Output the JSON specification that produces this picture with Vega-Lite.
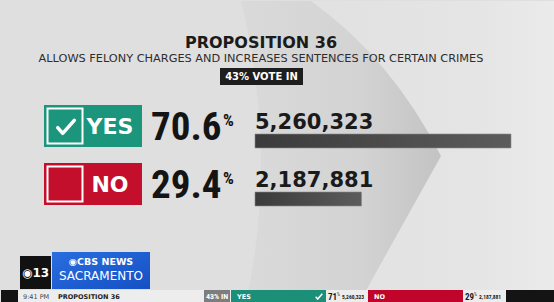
{
  "$schema": "https://vega.github.io/schema/vega-lite/v6.json",
  "width": 554,
  "height": 302,
  "autosize": {"type": "fit", "contains": "padding"},
  "padding": 0,
  "background": "#dfdfdf",
  "title": {
    "text": "PROPOSITION 36",
    "subtitle": "ALLOWS FELONY CHARGES AND INCREASES SENTENCES FOR CERTAIN CRIMES",
    "anchor": "middle",
    "frame": "group",
    "dx": -16.5,
    "font": "DejaVu Sans",
    "fontSize": 16,
    "fontWeight": "bold",
    "color": "#1b1b1b",
    "subtitleFont": "DejaVu Sans",
    "subtitleFontSize": 11.3,
    "subtitleColor": "#2d2d2d",
    "subtitlePadding": 2,
    "offset": -64
  },
  "config": {"view": {"stroke": null}},
  "datasets": {
    "results": [
      {"option": "Yes", "label": "YES", "pct": 70.6, "votes": 5260323},
      {"option": "No", "label": "NO", "pct": 29.4, "votes": 2187881}
    ],
    "reporting": [{"label": "43% VOTE IN", "short": "43% IN"}],
    "ticker": [{"time": "9:41 PM", "race": "PROPOSITION 36"}],
    "station": [{"call": "◉13", "brand": "◉CBS NEWS", "city": "SACRAMENTO"}],
    "backdrop": [{"part": "chevron"}]
  },
  "data": {"name": "results"},
  "resolve": {"scale": {"x": "independent", "color": "independent"}},
  "layer": [
    {
      "data": {"name": "backdrop"},
      "mark": {"type": "rect", "x": 300, "x2": 554, "y": 0, "y2": 289, "clip": true,
        "fill": {"gradient": "linear", "x1": 0, "y1": 0, "x2": 1, "y2": 0,
          "stops": [{"offset": 0, "color": "#e1e1e1"}, {"offset": 0.7, "color": "#e5e5e5"}, {"offset": 1, "color": "#ebebeb"}]}},
      "encoding": {}
    },
    {
      "data": {"name": "backdrop"},
      "mark": {"type": "point", "filled": true, "clip": true, "strokeWidth": 0, "opacity": 1,
        "shape": "M-0.695,-1 L-0.232,-1 Q0.3,-0.62 0.629,0.026 L0.086,1 L-0.662,1 Q-0.45,0 -0.695,-1 Z",
        "size": 91204,
        "fill": {"gradient": "linear", "x1": 0, "y1": 0, "x2": 1, "y2": 0,
          "stops": [{"offset": 0, "color": "#dadada"}, {"offset": 0.6, "color": "#d3d3d3"}, {"offset": 1, "color": "#c3c3c3"}]}},
      "encoding": {"x": {"value": 345}, "y": {"value": 151}}
    },
    {
      "data": {"name": "reporting"},
      "mark": {"type": "rect", "x": 219, "x2": 302, "y": 67, "y2": 84, "fill": "#1e1e1e"},
      "encoding": {}
    },
    {
      "data": {"name": "reporting"},
      "mark": {"type": "text", "align": "center", "baseline": "middle", "font": "DejaVu Sans", "fontWeight": "bold", "fontSize": 10, "fill": "#ffffff"},
      "encoding": {"x": {"value": 260.5}, "y": {"value": 75.5}, "text": {"field": "label"}}
    },
    {
      "mark": {"type": "rect", "x": 43, "x2": 141},
      "encoding": {
        "y": {"field": "option", "type": "nominal", "axis": null, "scale": {"type": "band", "domain": ["Yes", "No"], "range": [104, 204], "paddingInner": 0.276, "paddingOuter": 0}},
        "color": {"field": "option", "type": "nominal", "legend": null, "scale": {"domain": ["Yes", "No"], "range": ["#1b957b", "#c30f2b"]}}
      }
    },
    {
      "mark": {"type": "point", "shape": "square", "size": 1225, "filled": false, "stroke": "#ffffff", "strokeWidth": 2, "opacity": 1},
      "encoding": {
        "x": {"value": 64},
        "y": {"field": "option", "type": "nominal", "axis": null, "scale": {"type": "band", "domain": ["Yes", "No"], "range": [104, 204], "paddingInner": 0.276, "paddingOuter": 0}}
      }
    },
    {
      "transform": [{"filter": "datum.option === 'Yes'"}],
      "mark": {"type": "point", "shape": "M-0.83,0.07 L-0.33,0.63 L0.83,-0.67", "size": 400, "filled": false, "stroke": "#ffffff", "strokeWidth": 3.5, "strokeCap": "round", "strokeJoin": "round", "opacity": 1, "yOffset": 1},
      "encoding": {
        "x": {"value": 65},
        "y": {"field": "option", "type": "nominal", "axis": null, "scale": {"type": "band", "domain": ["Yes", "No"], "range": [104, 204], "paddingInner": 0.276, "paddingOuter": 0}}
      }
    },
    {
      "mark": {"type": "text", "align": "center", "baseline": "middle", "dy": 1, "font": "DejaVu Sans", "fontWeight": "bold", "fontSize": 22, "fill": "#ffffff"},
      "encoding": {
        "x": {"value": 109},
        "y": {"field": "option", "type": "nominal", "axis": null, "scale": {"type": "band", "domain": ["Yes", "No"], "range": [104, 204], "paddingInner": 0.276, "paddingOuter": 0}},
        "text": {"field": "label"}
      }
    },
    {
      "mark": {"type": "text", "align": "left", "baseline": "alphabetic", "dy": 14, "font": "Roboto Condensed", "fontWeight": "bold", "fontSize": 39, "fill": "#141414"},
      "encoding": {
        "x": {"value": 150},
        "y": {"field": "option", "type": "nominal", "axis": null, "scale": {"type": "band", "domain": ["Yes", "No"], "range": [104, 204], "paddingInner": 0.276, "paddingOuter": 0}},
        "text": {"field": "pct", "format": ".1f"}
      }
    },
    {
      "mark": {"type": "text", "align": "left", "baseline": "alphabetic", "dy": 0, "font": "Roboto Condensed", "fontWeight": "bold", "fontSize": 17, "fill": "#141414", "text": "%"},
      "encoding": {
        "x": {"value": 222},
        "y": {"field": "option", "type": "nominal", "axis": null, "scale": {"type": "band", "domain": ["Yes", "No"], "range": [104, 204], "paddingInner": 0.276, "paddingOuter": 0}}
      }
    },
    {
      "mark": {"type": "bar", "orient": "horizontal", "height": 14, "yOffset": 15, "stroke": "#8a8a8a", "strokeWidth": 0.6,
        "fill": {"gradient": "linear", "x1": 0, "y1": 0, "x2": 1, "y2": 0,
          "stops": [{"offset": 0, "color": "#3b3b3b"}, {"offset": 1, "color": "#5c5c5c"}]}},
      "encoding": {
        "x": {"field": "votes", "type": "quantitative", "axis": null, "scale": {"domain": [0, 5260323], "range": [254, 510]}},
        "y": {"field": "option", "type": "nominal", "axis": null, "scale": {"type": "band", "domain": ["Yes", "No"], "range": [104, 204], "paddingInner": 0.276, "paddingOuter": 0}}
      }
    },
    {
      "mark": {"type": "text", "align": "left", "baseline": "alphabetic", "dy": 3, "font": "DejaVu Sans", "fontWeight": "bold", "fontSize": 21, "fill": "#1a1a1a"},
      "encoding": {
        "x": {"datum": 0, "type": "quantitative", "axis": null, "scale": {"domain": [0, 5260323], "range": [254, 510]}},
        "y": {"field": "option", "type": "nominal", "axis": null, "scale": {"type": "band", "domain": ["Yes", "No"], "range": [104, 204], "paddingInner": 0.276, "paddingOuter": 0}},
        "text": {"field": "votes", "format": ","}
      }
    },
    {
      "data": {"name": "station"},
      "mark": {"type": "rect", "x": 19, "x2": 50, "y": 255, "y2": 288, "fill": "#111111"},
      "encoding": {}
    },
    {
      "data": {"name": "station"},
      "mark": {"type": "rect", "x": 51, "x2": 149, "y": 251, "y2": 288,
        "fill": {"gradient": "linear", "x1": 0, "y1": 0, "x2": 1, "y2": 1,
          "stops": [{"offset": 0, "color": "#2a6ee0"}, {"offset": 1, "color": "#1450c4"}]}},
      "encoding": {}
    },
    {
      "data": {"name": "station"},
      "mark": {"type": "text", "align": "center", "baseline": "middle", "font": "DejaVu Sans", "fontWeight": "bold", "fontSize": 12, "fill": "#ffffff"},
      "encoding": {"x": {"value": 34.5}, "y": {"value": 271.5}, "text": {"field": "call"}}
    },
    {
      "data": {"name": "station"},
      "mark": {"type": "text", "align": "center", "baseline": "alphabetic", "font": "DejaVu Sans", "fontWeight": "bold", "fontSize": 9.5, "fill": "#ffffff"},
      "encoding": {"x": {"value": 100}, "y": {"value": 264}, "text": {"field": "brand"}}
    },
    {
      "data": {"name": "station"},
      "mark": {"type": "text", "align": "center", "baseline": "alphabetic", "font": "DejaVu Sans", "fontSize": 12, "fill": "#ffffff"},
      "encoding": {"x": {"value": 100}, "y": {"value": 279}, "text": {"field": "city"}}
    },
    {
      "data": {"name": "ticker"},
      "mark": {"type": "rect", "x": 0, "x2": 554, "y": 289, "y2": 302, "fill": "#ededed"},
      "encoding": {}
    },
    {
      "data": {"name": "ticker"},
      "mark": {"type": "rect", "x": 0, "x2": 17, "y": 289, "y2": 302, "fill": "#141414"},
      "encoding": {}
    },
    {
      "data": {"name": "ticker"},
      "mark": {"type": "rect", "x": 505, "x2": 554, "y": 289, "y2": 302, "fill": "#141414"},
      "encoding": {}
    },
    {
      "data": {"name": "ticker"},
      "mark": {"type": "rect", "x": 203, "x2": 229, "y": 289, "y2": 302, "fill": "#7d7d7d"},
      "encoding": {}
    },
    {
      "data": {"name": "ticker"},
      "mark": {"type": "text", "align": "left", "baseline": "middle", "font": "DejaVu Sans", "fontSize": 6.5, "fill": "#444444"},
      "encoding": {"x": {"value": 22}, "y": {"value": 295.5}, "text": {"field": "time"}}
    },
    {
      "data": {"name": "ticker"},
      "mark": {"type": "rule", "x": 53, "y": 291, "y2": 300, "stroke": "#555555", "strokeWidth": 0.8},
      "encoding": {}
    },
    {
      "data": {"name": "ticker"},
      "mark": {"type": "text", "align": "left", "baseline": "middle", "font": "DejaVu Sans", "fontWeight": "bold", "fontSize": 6.5, "fill": "#222222"},
      "encoding": {"x": {"value": 57}, "y": {"value": 295.5}, "text": {"field": "race"}}
    },
    {
      "data": {"name": "reporting"},
      "mark": {"type": "text", "align": "center", "baseline": "middle", "font": "Roboto Condensed", "fontWeight": "bold", "fontSize": 8, "fill": "#ffffff"},
      "encoding": {"x": {"value": 216}, "y": {"value": 295.5}, "text": {"field": "short"}}
    },
    {
      "mark": {"type": "rect", "y": 289, "y2": 302},
      "encoding": {
        "x": {"field": "option", "type": "nominal", "axis": null, "scale": {"type": "band", "domain": ["Yes", "No"], "range": [230, 462], "paddingInner": 0.3066, "paddingOuter": 0}},
        "color": {"field": "option", "type": "nominal", "legend": null, "scale": {"domain": ["Yes", "No"], "range": ["#1b8f77", "#c0042a"]}}
      }
    },
    {
      "mark": {"type": "text", "align": "left", "baseline": "middle", "dx": 6, "font": "DejaVu Sans", "fontWeight": "bold", "fontSize": 6.5, "fill": "#ffffff"},
      "encoding": {
        "x": {"field": "option", "type": "nominal", "bandPosition": 0, "axis": null, "scale": {"type": "band", "domain": ["Yes", "No"], "range": [230, 462], "paddingInner": 0.3066, "paddingOuter": 0}},
        "y": {"value": 295.5},
        "text": {"field": "label"}
      }
    },
    {
      "transform": [{"filter": "datum.option === 'Yes'"}],
      "mark": {"type": "point", "shape": "M-0.83,0.07 L-0.33,0.63 L0.83,-0.67", "size": 64, "filled": false, "stroke": "#ffffff", "strokeWidth": 1.5, "opacity": 1},
      "encoding": {
        "x": {"value": 318},
        "y": {"value": 295.5}
      }
    },
    {
      "mark": {"type": "text", "align": "left", "baseline": "middle", "dx": 2, "font": "Roboto Condensed", "fontWeight": "bold", "fontSize": 9, "fill": "#1a1a1a"},
      "encoding": {
        "x": {"field": "option", "type": "nominal", "bandPosition": 1, "axis": null, "scale": {"type": "band", "domain": ["Yes", "No"], "range": [230, 462], "paddingInner": 0.3066, "paddingOuter": 0}},
        "y": {"value": 295.5},
        "text": {"field": "pct", "format": ".0f"}
      }
    },
    {
      "mark": {"type": "text", "align": "left", "baseline": "middle", "dx": 11, "dy": -2, "font": "Roboto Condensed", "fontSize": 4.5, "fill": "#1a1a1a", "text": "%"},
      "encoding": {
        "x": {"field": "option", "type": "nominal", "bandPosition": 1, "axis": null, "scale": {"type": "band", "domain": ["Yes", "No"], "range": [230, 462], "paddingInner": 0.3066, "paddingOuter": 0}},
        "y": {"value": 295.5}
      }
    },
    {
      "mark": {"type": "text", "align": "left", "baseline": "middle", "dx": 16, "font": "Roboto Condensed", "fontWeight": "bold", "fontSize": 5.5, "fill": "#1a1a1a"},
      "encoding": {
        "x": {"field": "option", "type": "nominal", "bandPosition": 1, "axis": null, "scale": {"type": "band", "domain": ["Yes", "No"], "range": [230, 462], "paddingInner": 0.3066, "paddingOuter": 0}},
        "y": {"value": 295.5},
        "text": {"field": "votes", "format": ","}
      }
    }
  ]
}
